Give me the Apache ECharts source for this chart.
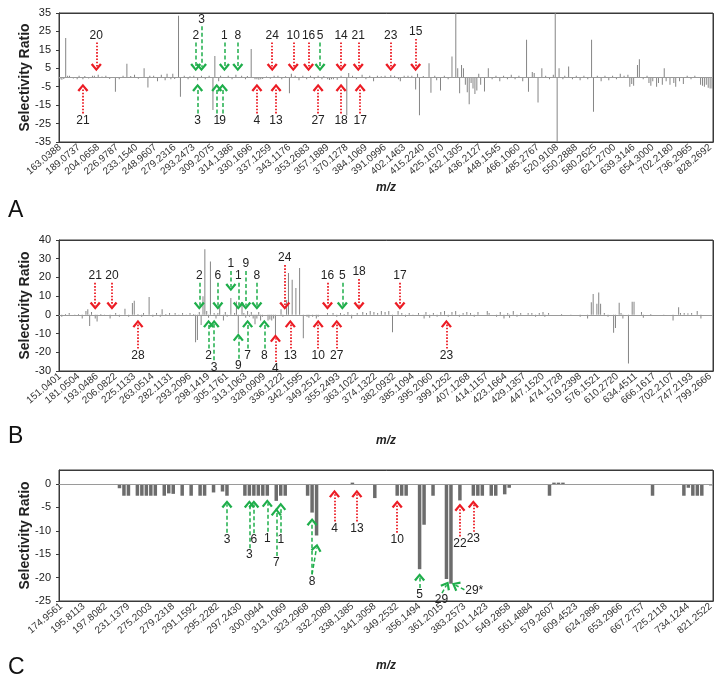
<!DOCTYPE html>
<html><head><meta charset="utf-8">
<script src="https://cdn.jsdelivr.net/npm/echarts@6/dist/echarts.min.js"></script>
<style>html,body{margin:0;padding:0;background:#fff}#c{width:724px;height:685px}</style>
</head><body><div id="c"></div>
<script>
// ---------- tick labels (m/z) ----------
const labelsA = ['163.0388','189.0737','204.0658','226.9787','233.1540','248.9607','279.2316','293.2473','309.2075','314.1386','330.1696','337.1259','343.1176','353.2683','357.1889','370.1278','384.1069','391.0996','402.1463','415.2240','425.1670','432.1305','436.2127','448.1545','466.1060','485.2767','520.9108','550.2888','580.2625','621.2700','639.3146','654.3000','702.2180','736.2965','828.2692'];
const labelsB = ['151.0401','181.0504','193.0486','206.0822','225.1133','263.0514','282.1131','293.2096','298.1419','305.1761','313.1063','328.0909','336.1222','342.1595','349.2512','355.2493','363.1022','374.1322','382.0932','385.1094','395.2060','399.1252','407.1268','414.1157','423.1664','429.1357','447.1520','474.1728','519.2398','576.1521','610.2720','634.4511','666.1617','702.2107','747.2193','799.2666'];
const labelsC = ['174.9561','195.8113','197.8082','231.1379','275.2003','279.2318','291.1592','295.2282','297.2430','300.0944','313.1069','323.2968','332.2089','338.1385','341.3058','349.2532','356.1494','361.2015','383.2573','401.1423','549.2858','561.4884','579.2607','609.4523','624.2896','653.2966','667.2757','725.2118','734.1244','821.2522'];

// ---------- category counts / label step ----------
const countA = 342, stepA = 10;
const countB = 352, stepB = 10;
const countC = 146, stepC = 5;

// ---------- bars: [category index, selectivity ratio] ----------
const barsA = [[0,-1],[1,-1.2],[2,-0.8],[3,21.4],[4,1],[5,1],[7,-0.5],[9,-1],[10,1],[12,-1],[13,0.8],[15,-0.6],[17,1],[18,1],[20,1.5],[22,0.6],[24,1],[26,-0.8],[29,-7.7],[31,-1],[33,1],[35,7.4],[37,0.8],[39,1.5],[41,-0.7],[44,5],[46,-5.4],[47,1],[49,1],[51,-2],[53,1.5],[55,-1.5],[56,2],[58,-1],[59,2],[60,-0.8],[62,33.5],[63,-10.5],[65,1],[67,-1],[68,0.7],[70,1],[72,-1.5],[74,1],[76,-1],[78,1],[80,-17.7],[81,11.7],[83,-2],[84,1],[88,1],[90,-1],[92,1.5],[95,1],[97,-1],[98,0.8],[100,15.4],[102,-1],[103,-1],[104,-1.2],[105,-1],[106,-0.8],[108,0.6],[110,-0.7],[112,1],[114,1],[116,-1],[118,0.7],[120,-8.6],[121,2],[123,1],[125,-1.5],[127,1],[129,-1],[131,1],[133,-1],[135,1],[137,-1],[138,0.8],[140,-1],[141,-1.3],[142,-1],[143,-1],[145,-1.2],[147,1],[150,-20.5],[151,2.5],[153,1],[155,-1],[158,1.5],[160,-1],[162,1],[164,-2],[166,1],[168,0.7],[170,1],[173,1.2],[175,1],[177,-1],[178,-2],[180,1],[182,1],[184,1],[186,-6.5],[187,2],[188,-20.5],[190,0.8],[193,7.7],[194,-8.3],[196,1],[197,-1.5],[199,-7],[201,1],[203,-1],[205,11.4],[207,38],[208,5],[209,-8.6],[210,6.8],[211,5],[212,-4],[213,-8],[214,-14.5],[215,-3],[216,-6],[217,-9],[218,-7],[219,2],[220,-4],[222,-7.6],[224,5],[226,-1],[228,1],[230,-2],[232,1],[234,-1],[236,1.5],[238,-1],[240,1],[242,-2],[244,20.5],[245,-7.7],[247,3],[248,2.5],[250,-13.5],[252,5],[254,1],[256,-1],[258,1.5],[259,38],[260,-38],[261,5],[263,-1],[264,1],[266,6],[268,-1],[270,1],[272,-1.5],[274,1],[276,-1],[278,20.5],[279,-18.6],[281,1],[283,-2],[285,1],[287,-1.5],[289,1],[291,-1],[293,2],[295,1],[297,1.5],[298,-5],[299,-3.5],[300,-4.5],[302,6.8],[303,9.9],[305,-1],[307,1],[308,-3],[309,-4.5],[310,-2],[312,-5],[313,-3],[315,-4],[316,5],[317,-2],[319,-4],[321,-3],[322,-5],[324,-2],[326,-3.5],[328,1],[330,-1],[332,1],[335,-4],[336,-4.5],[337,-5],[338,-4],[339,-5.5],[340,-6],[341,-6]];
const barsB = [[1,-1],[3,0.5],[5,1],[8,-0.5],[10,0.5],[12,-2],[14,2],[15,3],[16,-5.9],[17,1.5],[19,-2],[20,-3.5],[22,0.5],[24,-0.5],[27,-2],[30,1],[32,-1],[35,3.2],[37,-1],[39,6.3],[40,7.5],[42,0.5],[44,-1],[45,1],[48,9.5],[50,-1],[52,1],[54,-1],[55,3],[57,0.5],[59,1],[62,1],[64,-0.5],[66,1],[68,-0.5],[70,1],[72,0.5],[73,-14.7],[74,-13.5],[75,1.5],[76,-5.4],[77,9.9],[78,35],[79,2],[80,-1.5],[81,28.5],[83,1],[84,-2],[85,1],[86,5],[88,-3],[89,1.5],[90,-1],[92,9],[94,1],[95,7.2],[96,-9.9],[98,6],[99,1],[100,-1.5],[101,2],[102,-1],[103,1.5],[104,-2],[105,-5],[106,-2],[107,1.5],[108,-3],[109,-1],[112,-3],[113,-2.5],[114,-3],[115,-2],[116,-10.8],[119,3],[120,-1],[122,8],[123,22.4],[125,18.8],[127,14.3],[129,25.1],[131,-12.5],[133,-1],[134,-1.5],[136,-1],[138,-2],[139,-1],[144,1],[147,1],[149,-1],[151,1],[153,0.5],[155,1.5],[157,-2],[160,1],[163,1.5],[165,1],[167,2],[169,1.5],[171,1],[173,2],[175,1.5],[177,2],[179,-9.3],[182,2],[184,1],[186,-1],[188,1],[190,-0.5],[193,1],[196,-2],[197,1.5],[199,-1.5],[201,1],[203,-1],[205,1.5],[207,2],[209,-1],[211,1.5],[213,2],[215,-1],[217,1],[219,1.5],[221,1],[223,-1],[225,1.5],[230,2],[231,1],[235,-1],[237,1.5],[239,-2],[241,1],[242,-1.5],[244,2],[246,-1],[248,1],[252,1],[254,1],[256,-1],[258,1],[260,1.5],[261,-1],[263,1],[270,0.5],[275,-0.5],[280,-1],[284,-2],[286,6.8],[287,11.1],[289,6],[290,12],[291,6],[293,1],[295,-1],[298,-9.5],[299,-7],[301,6.5],[302,1],[303,-2],[306,-26],[308,7],[309,7],[313,1.5],[314,-1.5],[318,0.5],[325,-0.5],[330,-3],[333,4],[334,1],[336,1],[338,0.8],[340,1],[343,2],[345,-2]];
const barsC = [[2,-0.2],[4,-0.2],[6,-0.2],[13,-0.9],[14,-2.5],[15,-2.5],[17,-2.5],[18,-2.5],[19,-2.5],[20,-2.5],[21,-2.5],[23,-2.5],[24,-2],[25,-2.1],[27,-2.5],[29,-2.5],[31,-2.5],[32,-2.5],[34,-1.8],[36,-1.6],[37,-2.5],[38,-0.2],[39,-0.2],[41,-2.5],[42,-2.5],[43,-2.5],[44,-2.5],[45,-2.5],[46,-2.5],[48,-3.6],[49,-2.5],[50,-2.5],[51,-0.2],[52,-0.2],[55,-2.5],[56,-6.1],[57,-11],[58,-0.2],[60,-0.2],[65,0.3],[70,-3],[72,-0.2],[73,-0.2],[75,-2.5],[76,-2.5],[77,-2.5],[80,-18.2],[81,-8.7],[83,-2.5],[84,-0.2],[85,-0.2],[86,-20.3],[87,-21.3],[89,-3.5],[92,-2.5],[93,-2.5],[94,-2.5],[96,-2.5],[97,-2.5],[99,-2.2],[100,-0.8],[101,-0.2],[102,-0.2],[103,-0.2],[109,-2.5],[110,0.3],[111,0.3],[112,0.3],[116,-0.2],[117,-0.2],[118,-0.2],[119,-0.2],[120,-0.2],[121,-0.2],[122,-0.2],[124,-0.2],[132,-2.5],[133,-0.2],[134,-0.2],[135,-0.2],[139,-2.5],[140,-0.8],[141,-2.5],[142,-2.5],[143,-2.5],[145,-0.3]];

// ---------- annotated compounds: [fromIdx, fromVal, toIdx, toVal, label, r|g] ----------
const annA = [[19,19,19,5.5,'20','r'],[71,19,71,5.5,'2','g'],[74,27.8,74,5.5,'3','g'],[86,19,86,5.5,'1','g'],[93,19,93,5.5,'8','g'],[111,19,111,5.5,'24','r'],[122,19,122,5.5,'10','r'],[130,19,130,5.5,'16','r'],[136,19,136,5.5,'5','g'],[147,19,147,5.5,'14','r'],[156,19,156,5.5,'21','r'],[173,19,173,5.5,'23','r'],[186,20.9,186,5.5,'15','r'],
  [12,-19.5,12,-5.5,'21','r'],[72,-19.5,72,-5.5,'3','g'],[82,-19.5,82,-5.5,'1','g'],[85,-19.5,85,-5.5,'9','g'],[103,-19.5,103,-5.5,'4','r'],[113,-19.5,113,-5.5,'13','r'],[135,-19.5,135,-5.5,'27','r'],[147,-19.5,147,-5.5,'18','r'],[157,-19.5,157,-5.5,'17','r']];
const annB = [[19,17.1,19,4.8,'21','r'],[28,17.1,28,4.8,'20','r'],[75,17.1,75,4.8,'2','g'],[85,17.1,85,4.8,'6','g'],[92,23.4,92,14.7,'1','g'],[96,17.1,96,4.8,'1','g'],[100,23.4,100,4.8,'9','g'],[106,17.1,106,4.8,'8','g'],[121,26.6,121,4.8,'24','r'],[144,17.1,144,4.8,'16','r'],[152,17.1,152,4.8,'5','g'],[161,19.1,161,4.8,'18','r'],[183,17.1,183,4.8,'17','r'],
  [42,-18,42,-4.8,'28','r'],[80,-18,80,-4.8,'2','g'],[83,-24.3,83,-4.8,'3','g'],[96,-23.4,96,-12,'9','g'],[101,-18,101,-4.8,'7','g'],[110,-18,110,-4.8,'8','g'],[116,-25.2,116,-12.5,'4','r'],[124,-18,124,-4.8,'13','r'],[139,-18,139,-4.8,'10','r'],[149,-18,149,-4.8,'27','r'],[208,-18,208,-4.8,'23','r']];
const annC = [[37,-10.4,37,-4.3,'3','g'],[42,-13.7,42,-4.3,'3','g'],[43,-10.5,43,-4.3,'6','g'],[46,-10.2,46,-4.1,'1','g'],[48,-15.4,48,-6,'7','g'],[49,-10.4,49,-4.8,'1','g'],[56,-19.3,56,-8.1,'8','g'],[56,-19.3,57,-13.6,'','g'],[61,-8,61,-2.1,'4','r'],[66,-8,66,-2.1,'13','r'],[75,-10.4,75,-4.3,'10','r'],[80,-22.2,80,-19.9,'5','g'],[85,-23.3,86,-21.6,'29','g'],[90,-22.6,88,-21.6,'29*','g'],[89,-11.2,89,-5,'22','r'],[92,-10.2,92,-4.3,'23','r']];

// ---------- styling ----------
const FONT = 'Liberation Sans, Arial, Helvetica, sans-serif';
const RED = '#ec1c24', GREEN = '#1fae4b', AXIS = '#3a3a3a';
const CHEV = 'path://M0,8 L6,0 L12,8 L10,9.6 L6,3.9 L2,9.6 Z';
const PLOT_LEFT = 59, PLOT_WIDTH = 654;
const Y_TITLE = 'Selectivity Ratio';

function arrowData(ann) {
  return ann.map(([x1, y1, x2, y2, t, k]) => {
    const red = k === 'r';
    return [
      {coord: [x1, y1], name: t, symbol: 'none',
       lineStyle: {color: red ? RED : GREEN, width: red ? 1.8 : 1.5, type: red ? [1.6, 1.6] : [4, 2.5]},
       label: {show: true, position: 'start', formatter: '{b}', distance: 1, color: '#222', fontSize: 12, fontFamily: FONT}},
      {coord: [x2, y2], symbol: CHEV}
    ];
  });
}

const panels = [
  {top: 13, height: 129, min: -35, max: 35, interval: 10, count: countA, step: stepA, labels: labelsA, bars: barsA, ann: annA, barW: 1, color: '#858585', nameGap: 40, hideMax: false},
  {top: 240, height: 131, min: -30, max: 40, interval: 10, count: countB, step: stepB, labels: labelsB, bars: barsB, ann: annB, barW: 1, color: '#858585', nameGap: 64, hideMax: false},
  {top: 470, height: 131, min: -25, max: 3, interval: 5, count: countC, step: stepC, labels: labelsC, bars: barsC, ann: annC, barW: 3.5, color: '#6c6c6c', nameGap: 59, hideMax: true}
];

const grid = [], xAxis = [], yAxis = [], series = [], graphic = [];
panels.forEach((p, i) => {
  grid.push({left: PLOT_LEFT, top: p.top, width: PLOT_WIDTH, height: p.height, show: true, borderColor: AXIS, borderWidth: 1, backgroundColor: 'rgba(0,0,0,0)'});
  // plot frame: top and right edges (layout box, not data)
  const x0 = PLOT_LEFT + 0.5, x1 = PLOT_LEFT + PLOT_WIDTH + 0.5, y0 = p.top + 0.5, y1 = p.top + p.height + 0.5;
  graphic.push({type: 'polyline', shape: {points: [[x0, y0], [x1, y0], [x1, y1]]}, style: {stroke: AXIS, lineWidth: 1, fill: null}});
  // y-axis title, rotated, centred on the plot height
  graphic.push({type: 'text', x: 25, y: p.top + p.height / 2, rotation: Math.PI / 2,
    style: {text: Y_TITLE, align: 'center', verticalAlign: 'middle', fill: '#222', font: 'bold 14px ' + FONT}});
  const cats = Array.from({length: p.count}, (_, j) => 'c' + j);
  xAxis.push({
    type: 'category', gridIndex: i, data: cats, boundaryGap: true, position: 'bottom',
    axisLine: {show: true, onZero: false, lineStyle: {color: AXIS, width: 1}},
    axisTick: {show: false},
    splitLine: {show: false},
    axisLabel: {interval: p.step - 1, rotate: 40, margin: 4, fontSize: 10, color: '#333', fontFamily: FONT,
      formatter: (v, idx) => (idx % p.step === 0 ? (p.labels[idx / p.step] || '') : '')},
    name: 'm/z', nameLocation: 'middle', nameGap: p.nameGap,
    nameTextStyle: {fontStyle: 'italic', fontWeight: 'bold', fontSize: 12, color: '#222', fontFamily: FONT}
  });
  yAxis.push({
    type: 'value', gridIndex: i, min: p.min, max: p.max, interval: p.interval, position: 'left',
    axisLine: {show: true, onZero: false, lineStyle: {color: AXIS, width: 1}},
    axisTick: {show: true, length: 3, lineStyle: {color: AXIS}},
    splitLine: {show: false},
    axisLabel: {fontSize: 11, color: '#222', margin: 8, fontFamily: FONT, showMaxLabel: !p.hideMax}
  });
  // zero baseline
  series.push({
    type: 'line', xAxisIndex: i, yAxisIndex: i, data: [], silent: true,
    markLine: {silent: true, animation: false, symbol: ['none', 'none'],
      lineStyle: {color: '#9a9a9a', width: 1, type: 'solid'}, label: {show: false}, data: [{yAxis: 0}]}
  });
  series.push({
    type: 'bar', xAxisIndex: i, yAxisIndex: i, data: p.bars, barWidth: p.barW, clip: true, silent: true,
    itemStyle: {color: p.color},
    markLine: {silent: true, animation: false, symbol: ['none', CHEV], symbolSize: [11, 8], data: arrowData(p.ann)}
  });
});

const title = ['A', 'B', 'C'].map((t, i) => ({
  text: t, left: 8, top: [199, 425, 656][i], padding: 0,
  textStyle: {fontSize: 23, fontWeight: 'normal', color: '#111', fontFamily: FONT}
}));

const chart = echarts.init(document.getElementById('c'), null, {renderer: 'canvas', width: 724, height: 685});
chart.setOption({
  animation: false,
  backgroundColor: '#fff',
  textStyle: {fontFamily: FONT},
  title, grid, xAxis, yAxis, series, graphic
});
</script></body></html>
